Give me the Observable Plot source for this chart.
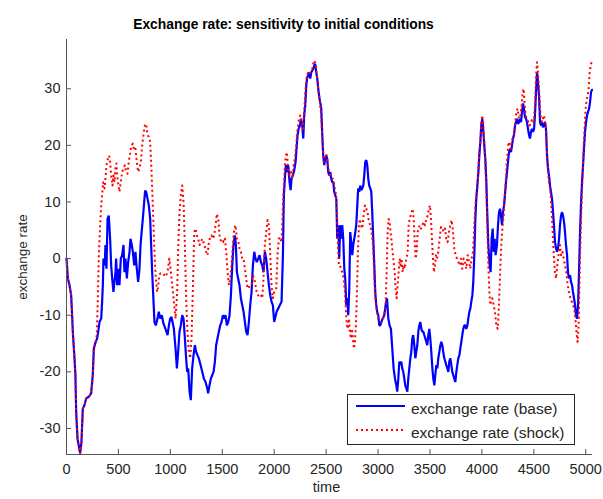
<!DOCTYPE html>
<html><head><meta charset="utf-8">
<script src="https://cdn.jsdelivr.net/npm/d3@7"></script>
<script src="https://cdn.jsdelivr.net/npm/@observablehq/plot@0.6"></script>
<style>
html,body{margin:0;padding:0;background:#fff;}
#wrap{position:relative;width:603px;height:499px;font-family:"Liberation Sans",Arial,sans-serif;}
#legend{position:absolute;left:347px;top:394px;}
</style></head><body>
<div id="wrap"></div>
<script>
const title = "Exchange rate: sensitivity to initial conditions";
const xLabel = "time";
const yLabel = "exchange rate";
const seriesNames = ["exchange rate (base)", "exchange rate (shock)"];
const seriesColors = ["#0000ff", "#ff0000"];
const xTicks = [0, 500, 1000, 1500, 2000, 2500, 3000, 3500, 4000, 4500, 5000];
const yTicks = [-30, -20, -10, 0, 10, 20, 30];
const xDomain = [0, 5065];
const yDomain = [-34.6, 38.7];

// [time, value]
const base = [[0,0],[13,-3.5],[29,-4.7],[45,-6.5],[54,-10],[61,-13],[77,-17.6],[86,-20.6],[93,-27],[106,-31.8],[118,-33],[131,-34.4],[144,-32.4],[157,-26.5],[173,-25.9],[189,-24.7],[215,-24.4],[237,-23.8],[253,-20.6],[263,-15.9],[276,-15],[295,-14.1],[308,-12.6],[318,-11.2],[334,-10.6],[343,-7.6],[350,-4.7],[356,0],[369,-1.2],[375,2.4],[385,-1.8],[395,7],[407,7.6],[420,3.5],[430,-1.2],[440,-3.5],[452,-5.9],[462,-4.1],[472,-2.4],[478,0],[488,-4.7],[497,-1.8],[510,-4.7],[523,0],[536,0.6],[549,2.4],[558,-2.4],[568,0],[581,-3.5],[594,-0.6],[607,1.2],[616,3.5],[629,2.4],[639,1.2],[652,-1.2],[664,1.2],[677,-1.8],[690,-4.1],[703,-1.8],[713,2.4],[725,5],[735,7],[748,10],[757,12],[767,11.8],[780,10.6],[793,9.4],[806,7],[815,2.4],[825,-2.4],[838,-7.6],[847,-11.2],[860,-11.8],[876,-10.6],[889,-9.4],[902,-10.6],[918,-10],[934,-11.5],[953,-12.4],[973,-13.5],[986,-11.8],[998,-10.6],
[1011,-10.3],[1034,-12.4],[1050,-15.9],[1063,-19.4],[1075,-16.5],[1088,-12.9],[1101,-11.8],[1114,-10],[1127,-10.6],[1140,-14.1],[1152,-17.6],[1162,-20],[1172,-19.4],[1185,-23.5],[1197,-25],[1210,-19.4],[1223,-17.1],[1236,-15.3],[1249,-16.5],[1262,-17.1],[1274,-17.6],[1291,-18.8],[1307,-20],[1323,-21.2],[1339,-21.8],[1355,-22.9],[1364,-23.8],[1377,-22.4],[1390,-21.2],[1403,-20.6],[1416,-20],[1429,-18.2],[1441,-15.3],[1454,-14.1],[1467,-12.9],[1480,-11.8],[1493,-11.2],[1506,-10],[1519,-10.6],[1531,-10],[1544,-11.8],[1557,-11.2],[1570,-10],[1583,-6.5],[1596,-1.2],[1608,2.4],[1621,4.1],[1631,2.4],[1641,-2.4],[1653,-3.5],[1666,-4.7],[1679,-7],[1692,-8.2],[1705,-9.4],[1718,-11.2],[1730,-12.9],[1743,-13.5],[1756,-11.2],[1769,-8.2],[1782,-5.9],[1795,-1.2],[1808,1.2],[1820,0],[1833,-0.6],[1846,0],[1859,0.6],[1872,-0.6],[1885,-1.2],[1897,-2.4],[1910,1.2],[1923,0],[1936,-2.4],[1949,-4.7],[1962,-6.5],[1974,-7.6],[1987,-8.2],[2000,-11.2],
[2023,-9.4],[2039,-8.8],[2055,-8.2],[2071,-7.6],[2084,0.6],[2093,11.2],[2103,14.1],[2113,16.5],[2122,15.3],[2135,16.5],[2148,13.5],[2158,12.1],[2167,14.1],[2180,14.7],[2193,15.6],[2206,17.1],[2215,19.4],[2225,21.8],[2235,22.9],[2248,23.5],[2257,24.7],[2270,23.5],[2280,21.2],[2289,25.3],[2299,27.1],[2309,30.6],[2318,32],[2328,32.4],[2337,32.9],[2347,31.8],[2357,32.9],[2366,33.2],[2376,33.5],[2386,34.1],[2395,34.4],[2405,32.9],[2415,31.8],[2424,30],[2434,28.5],[2443,27.6],[2453,26.5],[2463,21.8],[2472,18.2],[2482,16.5],[2492,17.6],[2501,18.2],[2511,17.6],[2520,15.3],[2530,14.7],[2540,15.3],[2549,14.1],[2559,13.5],[2569,13.5],[2578,11.8],[2588,11.2],[2598,10.6],[2607,3.5],[2617,5.9],[2626,0],[2636,5.9],[2646,3.5],[2655,5.9],[2665,3.5],[2675,-1.8],[2684,-3.5],[2694,-8.2],[2703,-7],[2713,-10],[2723,-5.3],[2732,4.7],[2742,2.9],[2752,0.6],[2761,2.4],[2771,3.5],[2781,4.7],[2790,5.9],[2800,9.4],[2809,12.4],[2819,11.8],[2829,12.9],[2838,12.1],[2848,12.4],[2858,12.9],[2867,14.7],[2877,17.1],[2887,17.4],[2896,16.5],[2906,14.1],[2915,12.9],[2925,12.4],[2935,11.8],[2944,8.2],[2954,3.5],[2964,-1.2],[2973,-5.9],[2983,-8.2],[2992,-9.4],[3002,-10],[3012,-11.8],[3021,-11.8],
[3044,-10.6],[3060,-10],[3073,-8.2],[3086,-7],[3099,-10.6],[3111,-11.8],[3124,-12.4],[3137,-15.9],[3150,-19.4],[3163,-21.2],[3176,-22.4],[3185,-23.5],[3195,-21.2],[3205,-18.2],[3214,-18.8],[3224,-18.2],[3233,-19.4],[3243,-20],[3253,-21.2],[3262,-22.4],[3272,-22.9],[3282,-23.5],[3291,-21.2],[3301,-19.4],[3311,-17.6],[3320,-16.5],[3330,-14.1],[3339,-13.5],[3349,-15.3],[3359,-17.6],[3368,-16.5],[3378,-15.3],[3388,-12.9],[3397,-11.8],[3407,-11.2],[3417,-12.4],[3426,-12.9],[3436,-12.9],[3445,-13.5],[3455,-14.1],[3465,-14.7],[3474,-15.3],[3484,-13.5],[3494,-12.4],[3503,-14.1],[3513,-16.5],[3523,-19.4],[3532,-21.2],[3542,-22.4],[3551,-20.6],[3561,-18.8],[3571,-19.4],[3580,-17.6],[3590,-16.5],[3600,-15.3],[3609,-14.7],[3619,-15.3],[3628,-16.5],[3638,-17.6],[3648,-18.2],[3657,-18.8],[3667,-19.4],[3677,-20],[3686,-18.2],[3696,-17.6],[3706,-18.8],[3715,-20],[3725,-20.6],[3734,-21.2],[3744,-21.8],[3754,-20],[3763,-18.8],[3773,-17.6],[3783,-17.1],[3792,-15.9],[3802,-14.7],[3811,-13.5],[3821,-12.4],[3831,-11.8],[3840,-11.8],[3850,-12.4],[3860,-11.8],[3869,-10.6],[3879,-9.4],[3889,-8.8],[3898,-7.6],[3908,-6.5],[3917,-4.1],[3927,0.6],[3937,7],[3946,10.6],[3956,12.9],[3966,15.3],[3975,18.2],[3985,20.6],[3994,23.5],[4004,24.7],[4014,22.4],[4023,20],[4033,17.6],[4043,13.5],
[4049,9.4],[4062,2.4],[4075,-1.2],[4084,-2.4],[4094,3.5],[4104,5.3],[4113,1.2],[4123,3.5],[4132,0.6],[4145,2.4],[4155,5.9],[4165,8.2],[4174,8.8],[4184,7.6],[4194,5.9],[4203,8.2],[4213,9.4],[4222,11.2],[4232,13.5],[4242,15.3],[4251,17.1],[4261,18.8],[4271,19.4],[4280,18.8],[4290,20],[4299,21.2],[4309,21.8],[4319,23.5],[4328,24.1],[4338,24.7],[4348,23.8],[4357,24.1],[4367,24.7],[4377,24.1],[4386,25.9],[4396,27.4],[4405,26.5],[4415,25],[4425,24.7],[4434,24.1],[4444,22.9],[4454,21.8],[4463,21.2],[4473,22.4],[4482,22.9],[4492,22.4],[4502,22.9],[4511,25.3],[4521,29.4],[4531,32.9],[4540,31.2],[4550,28.8],[4560,24.1],[4569,23.5],[4579,24.1],[4588,23.2],[4598,23.5],[4608,24.1],[4617,22.9],[4627,18.2],[4637,15.9],[4646,14.7],[4656,12.9],[4665,11.8],[4675,10.6],[4685,8.2],[4694,5.9],[4704,2.9],[4714,1.8],[4723,1.2],[4733,1.8],[4743,3.5],[4752,5.9],[4762,7.6],[4771,8.2],[4781,7.6],[4791,6.5],[4800,4.7],[4810,2.4],[4820,0.6],[4829,-2.4],[4839,-3.5],[4849,-2.9],[4858,-4.1],[4868,-4.7],[4877,-5.9],[4887,-7],[4897,-8.2],[4906,-10],[4916,-10.6],[4926,-8.2],[4935,-2.4],[4945,4.7],[4954,9.4],[4964,13.5],[4974,16.5],[4983,19.4],[4993,22.4],[5003,24.1],[5012,25.3],[5022,25.9],[5032,26.5],[5041,27.6],[5051,29.4],[5060,29.8]];

const shock = [[0,0],[13,-3.5],[29,-4.7],[45,-6.5],[54,-10],[61,-13],[77,-17.6],[86,-20.6],[93,-27],[106,-31.8],[118,-33],[131,-34.4],[144,-32.4],[157,-26.5],[173,-25.9],[189,-24.7],[215,-24.4],[237,-23.8],[253,-20.6],[263,-15.9],[276,-15],[292,-13.5],
[302,-7],[311,0.6],[324,5.9],[334,9.4],[343,11.2],[353,13.5],[366,12.4],[375,14.1],[385,16.5],[398,17.6],[411,18.2],[420,17.1],[430,14.7],[443,12.9],[452,14.7],[462,13.5],[472,16.2],[481,16.8],[491,14.1],[501,12.9],[510,11.8],[523,13.5],[536,15.3],[549,15.9],[562,16.5],[574,15.3],[587,15],[600,17.1],[613,18.8],[626,20],[639,20.3],[652,19.1],[664,19.4],[677,17.1],[690,15.3],[703,15.9],[716,17.1],[729,20],[741,21.8],[754,23.5],[767,23.8],[780,21.8],[793,21.5],[806,20.6],[819,15.3],[831,9.4],[841,4.1],[851,-0.6],[860,-3.5],[873,-5.9],[884,-4.7],[893,-2.9],[905,-2.6],[928,-2.6],[953,-3.2],[973,-2.4],[990,0],
[1002,-1.8],[1018,-4.7],[1034,-7.6],[1050,-10.6],[1066,-5.9],[1075,1.8],[1088,8.2],[1101,11.2],[1114,12.9],[1127,10],[1140,2.4],[1152,-7],[1165,-12.9],[1178,-16.5],[1191,-17.6],[1204,-14.1],[1217,-5.3],[1230,4.7],[1242,5.3],[1255,4.1],[1268,3.5],[1281,2.4],[1294,2.9],[1307,3.5],[1319,2.9],[1332,2.1],[1345,1.2],[1358,0.6],[1371,2.9],[1384,3.8],[1396,4.1],[1409,3.5],[1422,4.1],[1435,5.9],[1448,7.9],[1461,7],[1474,4.1],[1486,3.2],[1499,3.5],[1512,2.9],[1525,3.5],[1538,1.2],[1551,-2.4],[1564,-4.7],[1576,-3.5],[1589,-1.2],[1602,2.4],[1615,5.3],[1628,5.9],[1641,3.5],[1653,3.2],[1666,1.8],[1679,1.2],[1692,0],[1705,0],[1718,-1.8],[1730,-3.5],[1743,-5.3],[1756,-5],[1769,-5],[1782,-4.7],[1795,-2.9],[1808,-3.5],[1820,-4.7],[1833,-6.2],[1846,-6.5],[1859,-6.2],[1872,-6.5],[1885,-7],[1897,-3.5],[1910,2.4],[1923,4.7],[1936,6.8],[1949,5.9],[1962,0.6],[1974,-4.7],[1987,-7],[2000,-5.9],[2019,-5.5],
[2032,0.6],[2045,3.5],[2058,3.8],[2071,2.9],[2084,9.4],[2093,12.9],[2103,16.5],[2113,18.2],[2122,18.8],[2135,15.3],[2148,14.7],[2161,15.3],[2174,14.1],[2187,16.5],[2199,17.6],[2212,20],[2225,22.9],[2238,24.7],[2251,25.3],[2264,24.1],[2276,22.9],[2289,25.9],[2302,30],[2315,32.4],[2328,32.9],[2341,32.6],[2354,33.2],[2366,33.5],[2379,34.7],[2389,35],[2398,34.1],[2411,32.4],[2424,30],[2437,28.2],[2450,25.9],[2463,21.2],[2476,17.1],[2488,18.2],[2501,18.5],[2514,17.1],[2527,15.3],[2540,14.7],[2553,14.1],[2565,14.1],[2578,12.9],[2591,11.8],[2604,8.2],[2614,2.4],[2623,-1.2],[2633,-1.2],[2642,-1.8],[2655,-2.4],[2668,-3.5],[2681,-5.9],[2691,-9.4],[2700,-11.8],[2710,-12.4],[2720,-10.6],[2729,-12.9],[2739,-14.1],[2748,-12.4],[2758,-14.1],[2768,-15.9],[2777,-14.7],[2787,-11.8],[2797,-5.9],[2806,1.2],[2816,5.9],[2826,7],[2835,5.9],[2848,5.3],[2861,7.6],[2874,9.4],[2887,8.8],[2899,8.2],[2912,6.5],[2925,5.9],[2938,4.7],[2951,2.4],[2960,-1.2],[2970,-5.9],[2980,-8.2],[2989,-9.4],[3002,-10.6],[3015,-11.2],
[3028,-11.2],[3044,-10.9],[3060,-10],[3073,-8.2],[3083,-2.4],[3092,4.7],[3102,7],[3111,6.5],[3121,4.7],[3131,2.9],[3140,1.2],[3150,-0.6],[3160,-2.4],[3169,-5.3],[3179,-7],[3189,-4.7],[3198,-2.4],[3208,0],[3217,-1.2],[3227,0],[3237,-2.4],[3246,-1.2],[3256,-1.8],[3266,-0.6],[3275,0],[3285,1.2],[3295,5.9],[3304,7],[3314,7.6],[3323,8.2],[3333,8.8],[3343,7],[3352,3.5],[3362,0],[3372,1.2],[3381,4.7],[3391,5.3],[3400,5.9],[3413,5.3],[3426,5.9],[3439,6.5],[3452,5.9],[3465,7],[3478,7.6],[3490,8.8],[3500,9.4],[3510,7],[3519,3.5],[3529,0],[3539,-2.4],[3548,-1.2],[3558,0.6],[3567,0],[3580,1.2],[3593,3.5],[3606,5.6],[3619,5.3],[3632,4.7],[3645,5.3],[3657,3.5],[3670,2.9],[3683,4.7],[3696,5.9],[3709,6.8],[3722,4.7],[3734,1.8],[3747,0.6],[3760,0],[3773,-0.6],[3786,-1.2],[3799,0],[3811,-1.8],[3824,0],[3837,-0.6],[3850,-1.8],[3863,0.6],[3876,-0.6],[3889,-1.8],[3901,0],[3914,1.2],[3927,5.9],[3937,9.4],[3946,11.2],[3956,12.4],[3966,15.3],[3975,18.8],[3985,20.6],[3994,24.1],[4004,25.3],[4014,23.5],[4023,20.6],[4033,16.5],[4043,12.4],[4052,5.9],[4062,-1.2],[4072,-5.9],[4081,-8.2],
[4088,-7.6],[4100,-7],[4113,-8.2],[4126,-9.4],[4139,-11.8],[4152,-12.4],[4161,-9.4],[4171,-4.7],[4181,0],[4190,3.5],[4200,5.9],[4210,7.6],[4219,10.6],[4229,13.5],[4238,16.5],[4248,18.8],[4258,20.6],[4267,20],[4277,19.4],[4287,20.6],[4296,21.2],[4306,21.8],[4319,23.5],[4332,25.9],[4344,26.5],[4357,24.7],[4370,25.3],[4383,27.1],[4393,29.4],[4402,30],[4412,27.1],[4421,25.3],[4434,24.7],[4447,24.1],[4460,23.5],[4473,24.1],[4486,24.7],[4499,24.1],[4511,27.1],[4521,31.8],[4531,34.7],[4540,32.9],[4550,30],[4560,26.5],[4569,24.7],[4579,24.1],[4588,24.7],[4598,25.3],[4608,24.1],[4617,23.5],[4627,18.8],[4637,15.3],[4646,13.5],[4656,12.4],[4665,10.6],[4675,7],[4685,3.5],[4694,0],[4704,-2.4],[4714,-3.5],[4723,-1.8],[4733,0],[4743,1.2],[4752,2.4],[4762,0.6],[4775,1.2],[4788,0],[4800,-1.2],[4813,-2.4],[4826,-4.7],[4839,-5.9],[4852,-7],[4865,-7.6],[4877,-8.2],[4890,-8.8],[4903,-11.2],[4913,-13.5],[4922,-14.7],[4932,-11.2],[4942,-2.4],[4951,4.7],[4961,10.6],[4971,15.3],[4980,20],[4990,23.5],[4999,26.5],[5009,28.2],[5019,28.8],[5028,30],[5038,32.9],[5048,34.1],[5060,35]];

const W = 603, H = 499, mL = 66, mR = 11, mT = 39, mB = 45;
const fw = W - mL - mR, fh = H - mT - mB;
const axisColor = "#555555";
const textColor = "#262626";
const font = "'Liberation Sans', Arial, Helvetica, sans-serif";

const chart = Plot.plot({
  width: W, height: H,
  marginLeft: mL, marginRight: mR, marginTop: mT, marginBottom: mB,
  style: {fontFamily: font, background: "#fff", color: textColor},
  x: {domain: xDomain},
  y: {domain: yDomain},
  marks: [
    Plot.axisX({ticks: xTicks, tickSize: 0, tickPadding: 9, fontSize: 14.5, fill: textColor, label: null, tickFormat: d => String(d)}),
    Plot.axisY({ticks: yTicks, tickSize: 0, tickPadding: 6, fontSize: 14.5, fill: textColor, label: null, tickFormat: d => String(d)}),
    Plot.tickX(xTicks, {x: d => d, stroke: axisColor, insetTop: fh - 5}),
    Plot.tickY(yTicks, {y: d => d, stroke: axisColor, insetRight: fw - 5}),
    Plot.line(base, {x: d => d[0], y: d => d[1], stroke: seriesColors[0], strokeWidth: 2.2, strokeLinejoin: "miter"}),
    Plot.line(shock, {x: d => d[0], y: d => d[1], stroke: seriesColors[1], strokeWidth: 2, strokeDasharray: "2,3", strokeLinecap: "butt"}),
    Plot.ruleX([xDomain[0]], {stroke: axisColor}),
    Plot.ruleY([yDomain[0]], {stroke: axisColor}),
    Plot.text([title], {text: d => d, frameAnchor: "top", dx: -46, dy: -20.5, fontWeight: "bold", fontSize: 13.8, fill: "#000"}),
    Plot.text([xLabel], {text: d => d, frameAnchor: "bottom", dx: -3, dy: 37, fontSize: 14.5, fill: textColor}),
    Plot.text([yLabel], {text: d => d, frameAnchor: "left", textAnchor: "middle", rotate: -90, dx: -44, dy: 10, fontSize: 13.5, fill: textColor})
  ]
});
const wrap = document.getElementById("wrap");
wrap.appendChild(chart);

// legend
const ns = "http://www.w3.org/2000/svg";
const lg = document.createElementNS(ns, "svg");
lg.setAttribute("id", "legend");
lg.setAttribute("width", 228); lg.setAttribute("height", 51);
const rect = document.createElementNS(ns, "rect");
Object.entries({x: 0.5, y: 0.5, width: 227, height: 50, fill: "#fff", stroke: "#262626", "stroke-width": 1}).forEach(([k, v]) => rect.setAttribute(k, v));
lg.appendChild(rect);
seriesNames.forEach((name, i) => {
  const ly = 12 + i * 24;
  const ln = document.createElementNS(ns, "line");
  Object.entries({x1: 9, x2: 58, y1: ly, y2: ly, stroke: seriesColors[i], "stroke-width": i ? 2 : 2.2}).forEach(([k, v]) => ln.setAttribute(k, v));
  if (i) ln.setAttribute("stroke-dasharray", "2,3");
  lg.appendChild(ln);
  const tx = document.createElementNS(ns, "text");
  tx.setAttribute("x", 64); tx.setAttribute("y", ly + 7.5);
  tx.setAttribute("font-size", 15.5); tx.setAttribute("fill", textColor);
  tx.setAttribute("font-family", font);
  tx.textContent = name;
  lg.appendChild(tx);
});
wrap.appendChild(lg);
</script>
</body></html>
